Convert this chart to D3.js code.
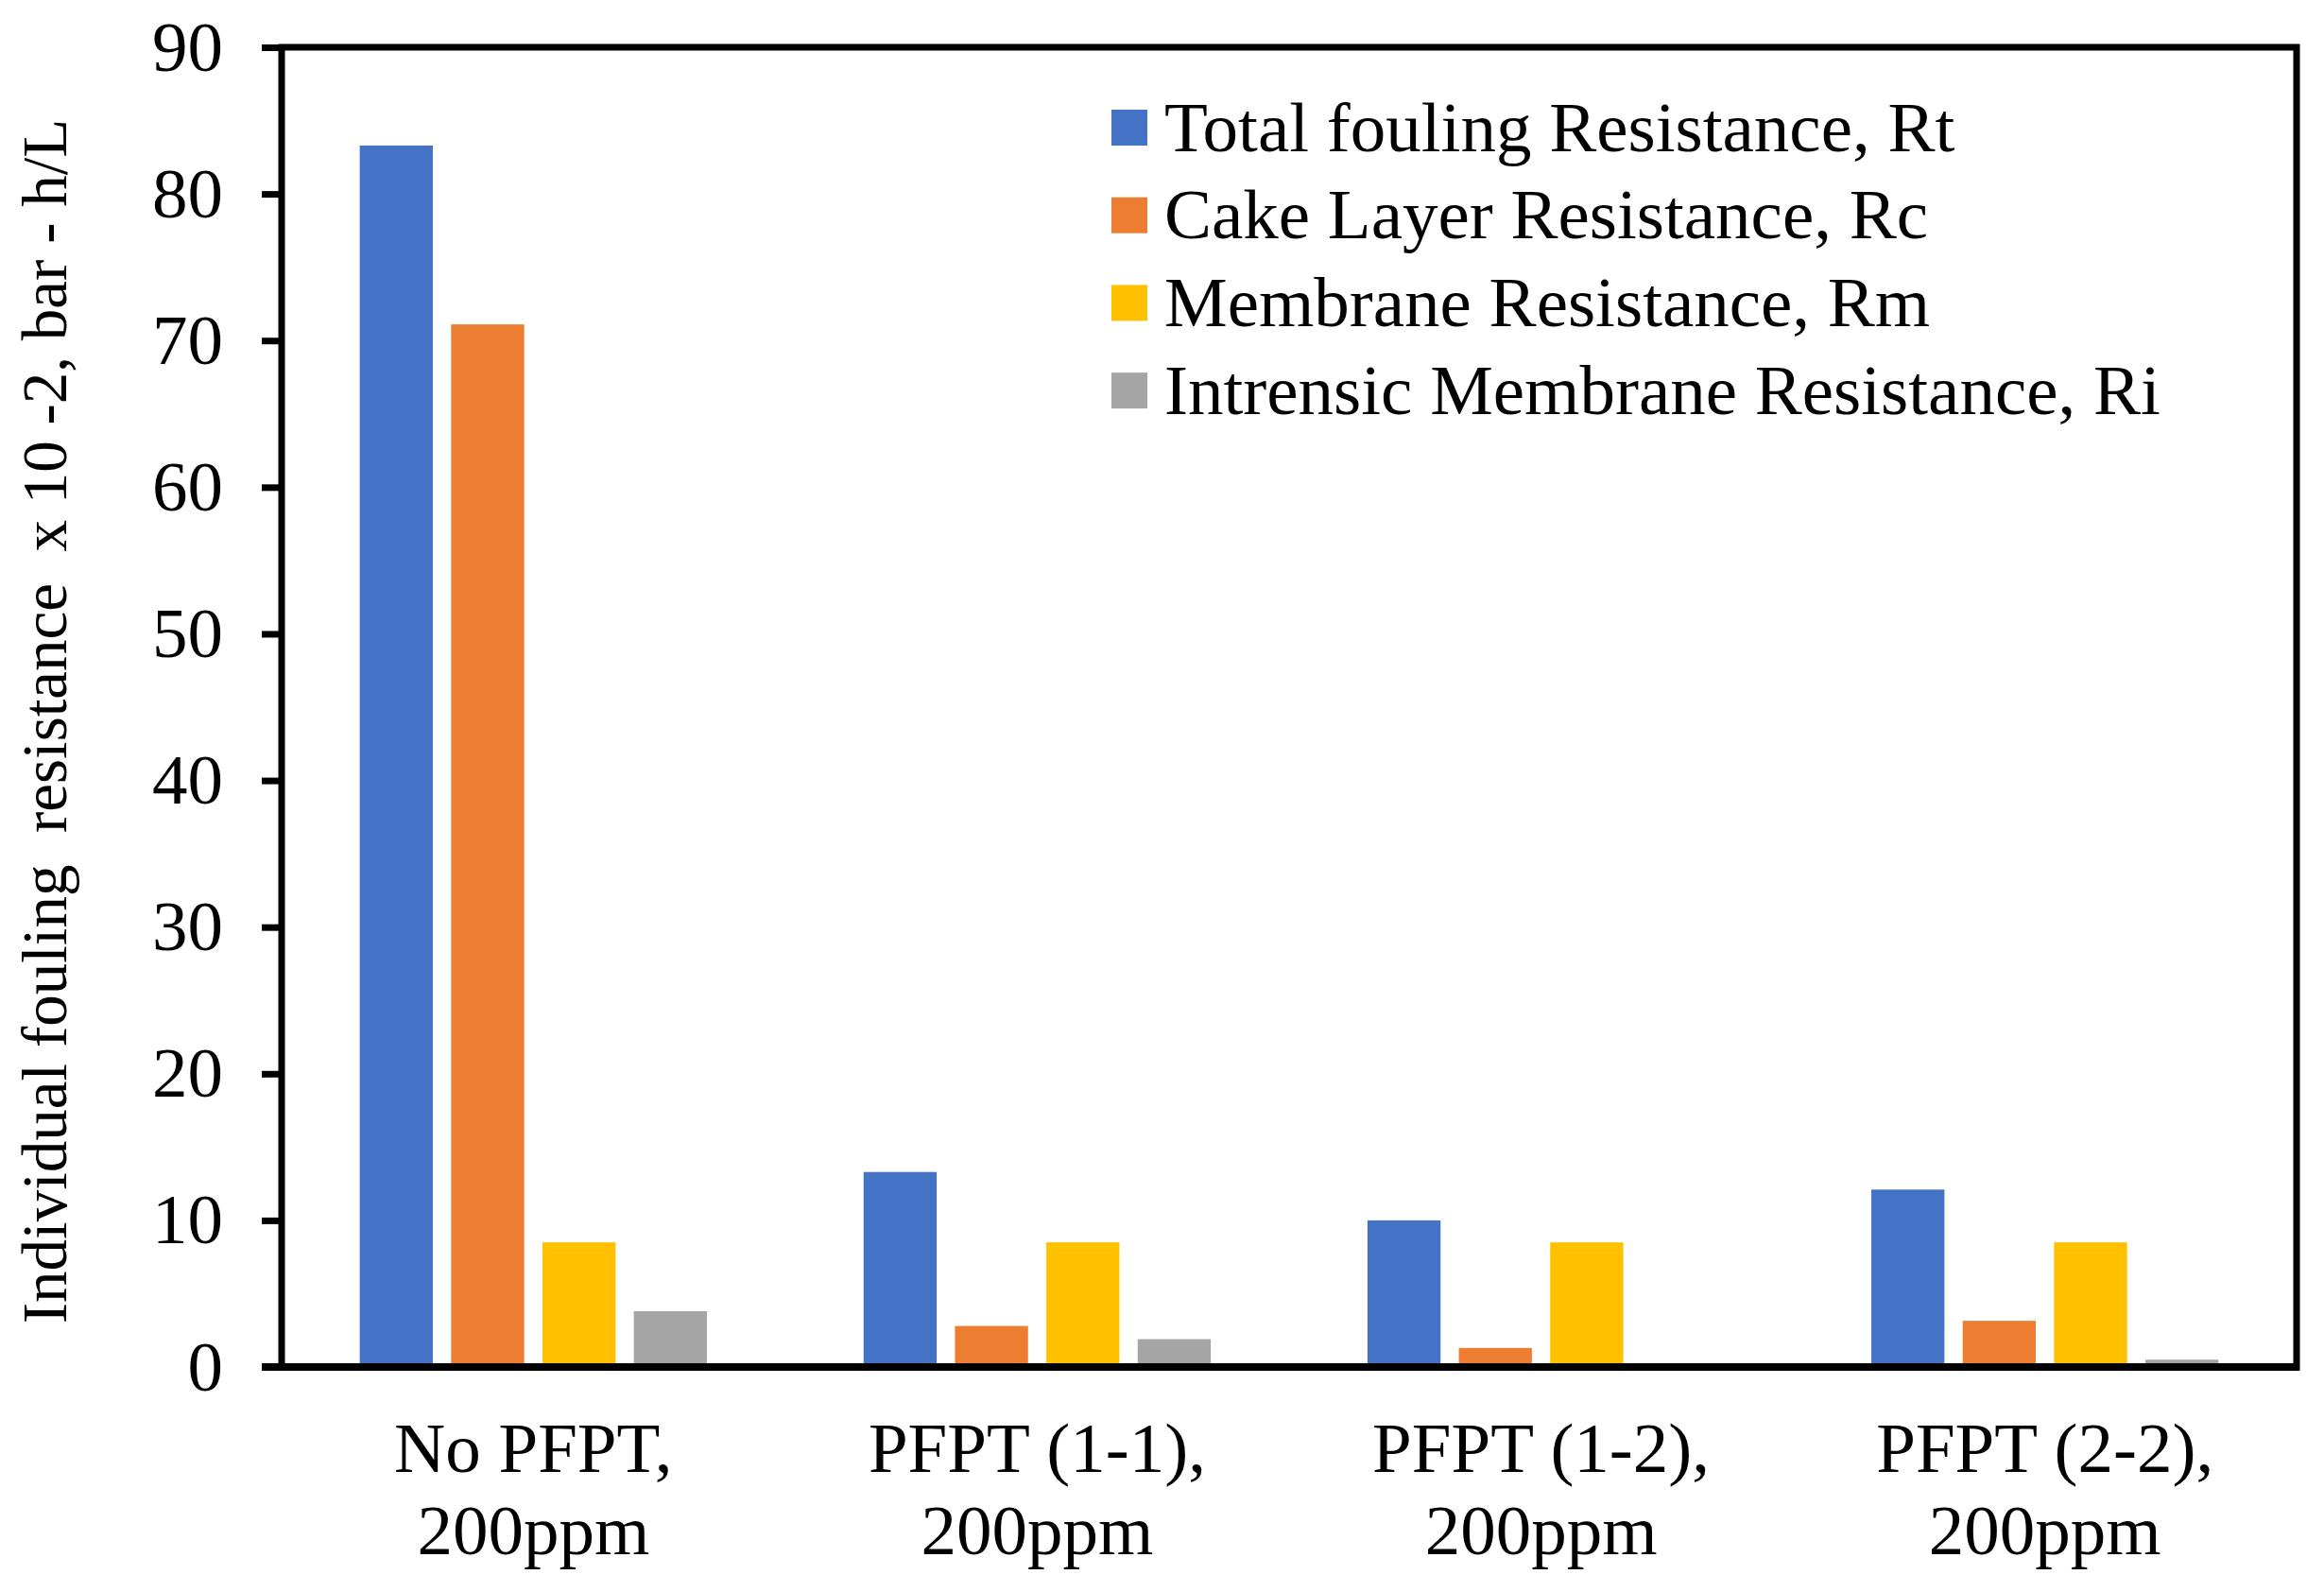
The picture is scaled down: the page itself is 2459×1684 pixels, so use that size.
<!DOCTYPE html>
<html>
<head>
<meta charset="utf-8">
<script src="https://cdn.jsdelivr.net/npm/d3@7"></script>
<style>
  body { margin: 0; background: #fff; }
  text { font-family: "Liberation Serif", "Times New Roman", serif; fill: #000; }
</style>
</head>
<body>
<svg class="bar-chart"></svg>
<script>
const categories = ["No PFPT,\n200ppm", "PFPT (1-1),\n200ppm", "PFPT (1-2),\n200ppm", "PFPT (2-2),\n200ppm"];
const seriesNames = ["Total fouling Resistance, Rt", "Cake Layer Resistance, Rc", "Membrane Resistance, Rm", "Intrensic Membrane Resistance, Ri"];
const rt = [83.3, 13.3, 10.0, 12.1];
const rc = [71.1, 2.8, 1.3, 3.15];
const rm = [8.5, 8.5, 8.5, 8.5];
const ri = [3.8, 1.9, 0.2, 0.5];
const yTicks = [0, 10, 20, 30, 40, 50, 60, 70, 80, 90];
const colors = ["#4472C4", "#ED7D31", "#FFC000", "#A5A5A5"];

const width = 2459;
const height = 1684;
const margin = {top: 50, right: 29, bottom: 238, left: 298};

const seriesValues = [rt, rc, rm, ri];
const data = categories.map((c, i) => ({
    cat: c,
    vals: seriesNames.map((s, j) => ({key: s, value: seriesValues[j][i], color: colors[j]}))
}));

const svg = d3.select(".bar-chart")
    .attr("width", width)
    .attr("height", height);

const x0 = d3.scaleBand()
    .domain(categories)
    .range([margin.left, width - margin.right])
    .paddingInner(0.311)
    .paddingOuter(0.155);

const x1 = d3.scaleBand()
    .domain(seriesNames)
    .range([0, x0.bandwidth()])
    .paddingInner(0.2);

const y = d3.scaleLinear()
    .domain([0, 90])
    .range([height - margin.bottom, margin.top]);

// bars
svg.append("g")
    .selectAll("g")
    .data(data)
    .enter().append("g")
        .attr("transform", d => `translate(${x0(d.cat)},0)`)
    .selectAll("rect")
    .data(d => d.vals)
    .enter().append("rect")
        .attr("x", d => x1(d.key))
        .attr("y", d => y(d.value))
        .attr("width", x1.bandwidth())
        .attr("height", d => y(0) - y(d.value))
        .attr("fill", d => d.color);

// frame
svg.append("rect")
    .attr("x", margin.left)
    .attr("y", margin.top)
    .attr("width", width - margin.right - margin.left)
    .attr("height", y(0) - margin.top)
    .attr("fill", "none")
    .attr("stroke", "#000")
    .attr("stroke-width", 7);

svg.append("line")
    .attr("x1", margin.left - 21)
    .attr("x2", width - margin.right + 3)
    .attr("y1", y(0))
    .attr("y2", y(0))
    .attr("stroke", "#000")
    .attr("stroke-width", 8);

// y axis
svg.append("g")
    .attr("transform", `translate(${margin.left},0)`)
    .call(d3.axisLeft(y).tickValues(yTicks).tickSize(21).tickPadding(41))
    .call(g => g.select(".domain").remove())
    .call(g => g.selectAll(".tick line").attr("stroke", "#000").attr("stroke-width", 7))
    .call(g => g.selectAll(".tick text")
        .style("font-family", "'Liberation Serif', 'Times New Roman', serif")
        .style("font-size", "75px")
        .attr("fill", "#000"));

// x labels
const xl = svg.append("g")
    .selectAll("text")
    .data(categories)
    .enter().append("text")
        .attr("text-anchor", "middle")
        .style("font-size", "75px")
        .attr("x", d => x0(d) + x0.bandwidth() / 2)
        .attr("y", 1557);
xl.selectAll("tspan")
    .data(d => d.split("\n"))
    .enter().append("tspan")
        .attr("x", function() { return d3.select(this.parentNode).attr("x"); })
        .attr("dy", (d, i) => i === 0 ? 0 : 87)
        .text(d => d);

// y title
svg.append("text")
    .attr("transform", `translate(70,${(margin.top + y(0)) / 2 + 15}) rotate(-90)`)
    .attr("text-anchor", "middle")
    .style("font-size", "67px")
    .style("white-space", "pre")
    .attr("xml:space", "preserve")
    .text("Individual fouling  resistance  x 10 -2, bar - h/L");

// legend
const legend = svg.append("g")
    .selectAll("g")
    .data(seriesNames)
    .enter().append("g")
        .attr("transform", (d, i) => `translate(1176,${135 + i * 92.7})`);
legend.append("rect")
    .attr("x", 0)
    .attr("y", -19)
    .attr("width", 38)
    .attr("height", 38)
    .attr("fill", (d, i) => colors[i]);
legend.append("text")
    .attr("x", 56)
    .attr("dy", "0.33em")
    .style("font-size", "75px")
    .text(d => d);
</script>
</body>
</html>
